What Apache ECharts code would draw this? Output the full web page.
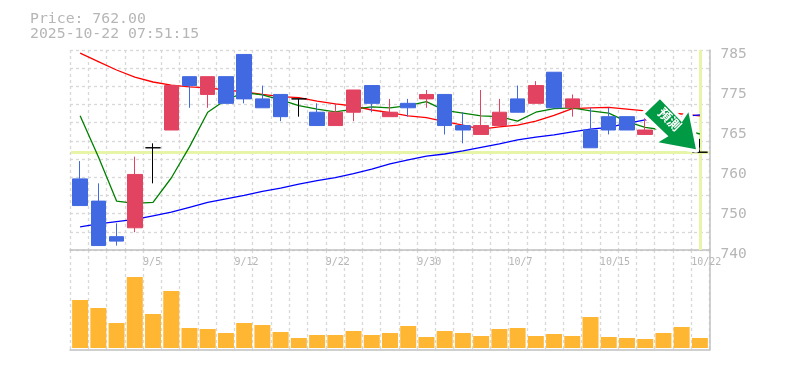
<!DOCTYPE html>
<html>
<head>
<meta charset="utf-8">
<style>html,body{margin:0;padding:0;background:#fff}#main{width:785px;height:370px}</style>
<script src="https://cdn.jsdelivr.net/npm/echarts@6/dist/echarts.min.js"></script>
</head>
<body>
<div id="main"></div>
<script>
var lastPrice = 762;
var stamp = '2025-10-22 07:51:15';
var priceTicks = ['740','750','760','765','775','785'];
var dateTicks = ['9/5','9/12','9/22','9/30','10/7','10/15','10/22'];
var arrowText = '預測';

var open_ = [756,751,743,745,763,767,779,775,779,784,774,775,774,771,768,771,777,770,773,774,775,768,766,768,774,773,780,772,767,770,770,766,771,763,762];
var close_ = [750,741,742,757,763,777,777,779,773,774,772,770,774,768,771,776,773,771,772,775,768,767,768,771,771,777,772,774,763,767,767,767,770,763,762];
var low_ = [750,741,741,744,755,767,772,772,773,773,772,769,770,768,768,769,771,770,770,772,766,764,766,768,771,773,772,770,763,766,767,766,770,763,762];
var high_ = [760,755,746,761,764,777,779,779,779,784,777,775,774,773,773,776,777,774,774,776,775,771,776,774,777,778,780,775,772,772,770,770,771,763,765];

var maShort = [770.2,761,751,750.5,750.7,756.2,763.2,771,773.8,775.4,774.9,773.8,772.5,771.7,771.1,771.7,772.2,772,772.5,773.4,771.4,770.8,770.2,770,769,771,771.8,772,771.3,770.8,768.9,767.6,767,767.2,766.1];
var maMid = [784.3,782.4,780.5,778.9,777.8,777.1,776.7,776.5,776,775.6,775,774.5,774.3,773.5,772.9,772.4,771.5,770.9,770.2,769.8,768.9,768.1,767.2,767.7,768.1,769,770.3,771.8,772,772.1,771.7,771.3,771,770.6,770.2];
var maLong = [745.2,745.9,746.4,746.9,747.7,748.5,749.6,750.7,751.5,752.3,753.2,753.9,754.8,755.6,756.3,757.2,758.2,759.4,760.3,761.1,761.6,762.3,763.1,763.9,764.8,765.4,765.9,766.6,767.2,767.6,768.5,769.3,769.7,770,770.4];

var volume = [48,40,25,71,34,57,20,19,15,25,23,16,10,13,13,17,13,15,22,11,17,15,12,19,20,12,14,12,31,11,10,9,15,21,10];

var gray = '#b6b6b6';
var mono = '"DejaVu Sans Mono", monospace';
var candles = open_.map(function (o, i) { return [o, close_[i], low_[i], high_[i]]; });
var cats = volume.map(function (v, i) { return i; });
var dash = { color: '#d8d8d8', width: 1.3, type: [3, 3] };
var frame = { color: '#c0c0c0', width: 1.5 };

function maSeries(data, color) {
    return {
        type: 'line', xAxisIndex: 0, yAxisIndex: 0, data: data, z: 2,
        symbol: 'none', silent: true,
        lineStyle: { color: color, width: 1.3 }
    };
}

var myChart = echarts.init(document.getElementById('main'));
var option = {
    animation: false,
    backgroundColor: '#fff',
    title: [
        { text: 'Price: ' + lastPrice.toFixed(2), left: 30, top: 12, padding: 0, textStyle: { color: gray, fontFamily: mono, fontSize: 14.8, fontWeight: 'normal' } },
        { text: stamp, left: 30, top: 27, padding: 0, textStyle: { color: gray, fontFamily: mono, fontSize: 14.8, fontWeight: 'normal' } }
    ],
    grid: [
        { left: 71, width: 638, top: 50, height: 200 },
        { left: 71, width: 638, top: 250, height: 100 },
        { left: 70, width: 639.5, top: 50, height: 200 },
        { left: 70, width: 639.5, top: 250, height: 100 }
    ],
    xAxis: [
        { type: 'category', gridIndex: 0, data: cats, show: false },
        { type: 'category', gridIndex: 1, data: cats, show: false },
        {
            type: 'value', gridIndex: 2, min: 0, max: 35, interval: 1,
            axisLine: { show: true, onZero: false, lineStyle: frame }, axisTick: { show: false },
            splitLine: { show: true, lineStyle: dash },
            axisLabel: {
                color: gray, fontFamily: mono, fontSize: 10, align: 'left', margin: 7,
                formatter: function (v) { return (v - 4) % 5 === 0 && v >= 4 ? dateTicks[(v - 4) / 5] : ''; }
            }
        },
        {
            type: 'value', gridIndex: 3, min: 0, max: 35, interval: 1,
            axisLine: { show: true, onZero: false, lineStyle: frame }, axisTick: { show: false },
            axisLabel: { show: false },
            splitLine: { show: true, lineStyle: dash }
        }
    ],
    yAxis: [
        { type: 'value', gridIndex: 0, min: 740, max: 785, show: false },
        { type: 'value', gridIndex: 1, min: -2, max: 98, show: false },
        {
            type: 'value', gridIndex: 2, min: 0, max: 11, interval: 1,
            axisLine: { show: false }, axisTick: { show: false }, axisLabel: { show: false },
            splitLine: { show: true, lineStyle: dash }
        },
        {
            type: 'value', gridIndex: 2, position: 'right', min: 0, max: 5, interval: 1,
            axisLine: { show: true, onZero: false, lineStyle: frame }, axisTick: { show: false },
            splitLine: { show: false },
            axisLabel: {
                color: gray, fontFamily: mono, fontSize: 14.5, margin: 11, verticalAlign: 'top', lineHeight: 9,
                formatter: function (v) { return priceTicks[v]; }
            }
        },
        {
            type: 'value', gridIndex: 3, position: 'right', min: 0, max: 1, interval: 1,
            axisLine: { show: true, onZero: false, lineStyle: frame }, axisTick: { show: false },
            axisLabel: { show: false }, splitLine: { show: false }
        }
    ],
    series: [
        {
            // current price cross hair, kept under the candles
            type: 'line', xAxisIndex: 0, yAxisIndex: 0, data: [], z: 1,
            markLine: {
                silent: true, symbol: 'none', label: { show: false }, animation: false, z: 1,
                lineStyle: { color: '#e6f5a8', width: 3, type: 'solid' },
                data: [{ yAxis: lastPrice }, { xAxis: cats.length - 1 }]
            }
        },
        maSeries(maMid, '#ff0000'),
        maSeries(maShort, '#008000'),
        maSeries(maLong, '#0000ff'),
        {
            type: 'candlestick', xAxisIndex: 0, yAxisIndex: 0, data: candles, z: 3,
            barWidth: 15, silent: true,
            itemStyle: {
                color: '#e24360', color0: '#4169e1',
                borderColor: '#e24360', borderColor0: '#4169e1', borderColorDoji: '#000',
                borderWidth: 1
            },
            markPoint: {
                silent: true, animation: false,
                symbol: 'path://M15 0 L0 14.5 L23.5 37 L13.5 43 L51 50 L43.5 13 L37 23 Z',
                symbolSize: [51, 50], symbolOffset: [7, 0],
                label: { show: false },
                data: [
                    // white halo first, the green arrow on top of it
                    { coord: [32, 768.3], itemStyle: { color: '#fff', borderColor: '#fff', borderWidth: 7, borderJoin: 'round' } },
                    {
                        coord: [32, 768.3], itemStyle: { color: '#009944' },
                        label: {
                            show: true, position: 'inside', rotate: -45, offset: [-4, -3],
                            formatter: arrowText, color: '#fff', fontSize: 13, fontWeight: 'bold',
                            fontFamily: '"Noto Sans CJK TC", sans-serif'
                        }
                    }
                ]
            }
        },
        {
            type: 'bar', xAxisIndex: 1, yAxisIndex: 1, data: volume, barWidth: 16, silent: true,
            itemStyle: { color: '#ffb733' }
        }
    ]
};
myChart.setOption(option, true);
</script>
</body>
</html>
